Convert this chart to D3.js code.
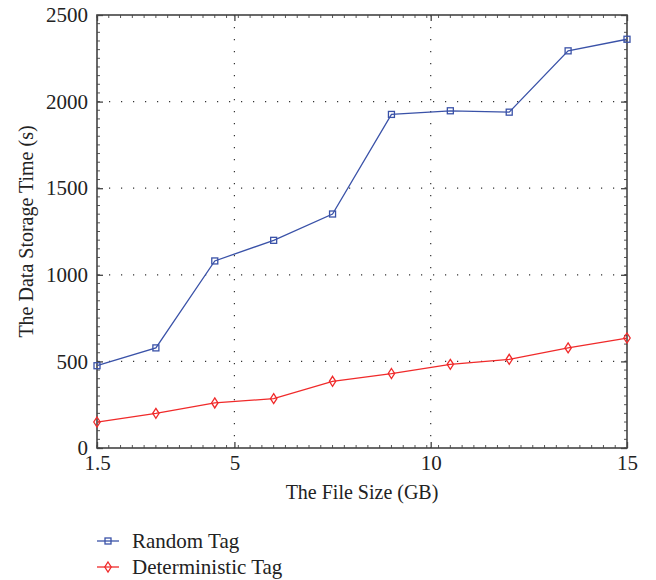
<!DOCTYPE html>
<html>
<head>
<meta charset="utf-8">
<script src="https://cdn.jsdelivr.net/npm/d3@7"></script>
<style>
  body { margin: 0; background: #fff; }
  text { font-family: "Liberation Serif", "DejaVu Serif", serif; fill: #222; }
</style>
</head>
<body>
<div id="chart"></div>
<script>
// data
const fileSizes = [1.5, 3, 4.5, 6, 7.5, 9, 10.5, 12, 13.5, 15];
const randomTag = [475, 578, 1080, 1199, 1351, 1926, 1947, 1939, 2293, 2360];
const deterministicTag = [150, 200, 260, 285, 385, 430, 483, 512, 578, 635];
const xTicks = [1.5, 5, 10, 15];
const yTicks = [0, 500, 1000, 1500, 2000, 2500];
const seriesNames = ["Random Tag", "Deterministic Tag"];

const width = 656, height = 580;
const margin = { top: 15, right: 29, bottom: 132, left: 97 };
const innerWidth = width - margin.left - margin.right;
const innerHeight = height - margin.top - margin.bottom;

const blue = "#3a52a8";
const red = "#f02a2a";

const svg = d3.select("#chart").append("svg")
    .attr("width", width)
    .attr("height", height);

const inner = svg.append("g")
    .attr("transform", `translate(${margin.left}, ${margin.top})`);

const xScale = d3.scaleLinear().domain([1.5, 15]).range([0, innerWidth]);
const yScale = d3.scaleLinear().domain([0, 2500]).range([innerHeight, 0]);

// dotted grid
inner.append("g")
    .selectAll("line")
    .data(xTicks.slice(1, -1))
    .join("line")
    .attr("x1", d => xScale(d)).attr("x2", d => xScale(d))
    .attr("y1", 0).attr("y2", innerHeight)
    .attr("stroke", "#333")
    .attr("stroke-width", 1.2)
    .attr("stroke-dasharray", "1.2 10.8");

inner.append("g")
    .selectAll("line")
    .data(yTicks.slice(1, -1))
    .join("line")
    .attr("x1", 0).attr("x2", innerWidth)
    .attr("y1", d => yScale(d)).attr("y2", d => yScale(d))
    .attr("stroke", "#333")
    .attr("stroke-width", 1.2)
    .attr("stroke-dasharray", "1.2 10.8");

// minor ticks, inward, all four sides
const xMinor = d3.range(1.5, 15, 0.3);
const yMinor = d3.range(0, 2500, 50);
const minor = inner.append("g").attr("stroke", "#555").attr("stroke-width", 1);
minor.selectAll(".xb").data(xMinor).join("line")
    .attr("x1", d => xScale(d)).attr("x2", d => xScale(d))
    .attr("y1", innerHeight).attr("y2", innerHeight - 3);
minor.selectAll(".xt").data(xMinor).join("line")
    .attr("x1", d => xScale(d)).attr("x2", d => xScale(d))
    .attr("y1", 0).attr("y2", 3);
minor.selectAll(".yl").data(yMinor).join("line")
    .attr("x1", 0).attr("x2", 3)
    .attr("y1", d => yScale(d)).attr("y2", d => yScale(d));
minor.selectAll(".yr").data(yMinor).join("line")
    .attr("x1", innerWidth).attr("x2", innerWidth - 3)
    .attr("y1", d => yScale(d)).attr("y2", d => yScale(d));

// axes
const bottomAxis = d3.axisBottom(xScale)
    .tickValues(xTicks)
    .tickSize(-6)
    .tickPadding(7)
    .tickFormat(d3.format(""));
const leftAxis = d3.axisLeft(yScale)
    .tickValues(yTicks)
    .tickSize(-6)
    .tickPadding(9)
    .tickFormat(d3.format(""));

inner.append("g")
    .attr("class", "axis-x")
    .attr("transform", `translate(0, ${innerHeight})`)
    .call(bottomAxis);
inner.append("g")
    .attr("class", "axis-y")
    .call(leftAxis);
// right / top ticks
inner.append("g")
    .attr("transform", `translate(${innerWidth}, 0)`)
    .call(d3.axisRight(yScale).tickValues(yTicks).tickSize(-6).tickFormat(""));
inner.append("g")
    .call(d3.axisTop(xScale).tickValues(xTicks).tickSize(-6).tickFormat(""));

inner.selectAll(".domain").remove();
inner.selectAll(".tick line").attr("stroke", "#444").attr("stroke-width", 1.3);
inner.selectAll(".axis-x, .axis-y")
    .attr("font-size", 21)
    .attr("font-family", "'Liberation Serif', serif");
inner.selectAll(".tick text").attr("fill", "#222");

// frame
inner.append("rect")
    .attr("width", innerWidth)
    .attr("height", innerHeight)
    .attr("fill", "none")
    .attr("stroke", "#444")
    .attr("stroke-width", 1.6);

// lines
const seriesData = [
    { name: seriesNames[0], values: randomTag, color: blue, marker: "square" },
    { name: seriesNames[1], values: deterministicTag, color: red, marker: "diamond" }
];

const lineGenerator = d3.line()
    .x((d, i) => xScale(fileSizes[i]))
    .y(d => yScale(d));

const drawMarker = (g, marker, color) => {
    if (marker === "square") {
        g.append("rect")
            .attr("x", -3).attr("y", -3)
            .attr("width", 6).attr("height", 6)
            .attr("fill", "none")
            .attr("stroke", color)
            .attr("stroke-width", 1.3);
    } else {
        g.append("path")
            .attr("d", "M0,-5 L3.2,0 L0,5 L-3.2,0 Z")
            .attr("fill", "none")
            .attr("stroke", color)
            .attr("stroke-width", 1.3);
    }
};

seriesData.forEach(s => {
    inner.append("path")
        .attr("d", lineGenerator(s.values))
        .attr("fill", "none")
        .attr("stroke", s.color)
        .attr("stroke-width", 1.3);

    inner.selectAll(null)
        .data(s.values)
        .join("g")
        .attr("transform", (d, i) => `translate(${xScale(fileSizes[i])}, ${yScale(d)})`)
        .each(function () { drawMarker(d3.select(this), s.marker, s.color); });
});

// axis titles
svg.append("text")
    .attr("x", margin.left + innerWidth / 2)
    .attr("y", 499)
    .attr("text-anchor", "middle")
    .attr("font-size", 20)
    .text("The File Size (GB)");

svg.append("text")
    .attr("transform", `translate(33, ${margin.top + innerHeight / 2}) rotate(-90)`)
    .attr("text-anchor", "middle")
    .attr("font-size", 20)
    .text("The Data Storage Time (s)");

// legend
const legend = svg.append("g").attr("transform", "translate(97, 541)");
seriesData.forEach((s, i) => {
    const row = legend.append("g").attr("transform", `translate(0, ${i * 26})`);
    row.append("line")
        .attr("x1", 0).attr("x2", 22)
        .attr("stroke", s.color)
        .attr("stroke-width", 1.3);
    const m = row.append("g").attr("transform", "translate(11, 0)");
    drawMarker(m, s.marker, s.color);
    row.append("text")
        .attr("x", 35)
        .attr("y", 7)
        .attr("font-size", 21)
        .text(s.name);
});
</script>
</body>
</html>
